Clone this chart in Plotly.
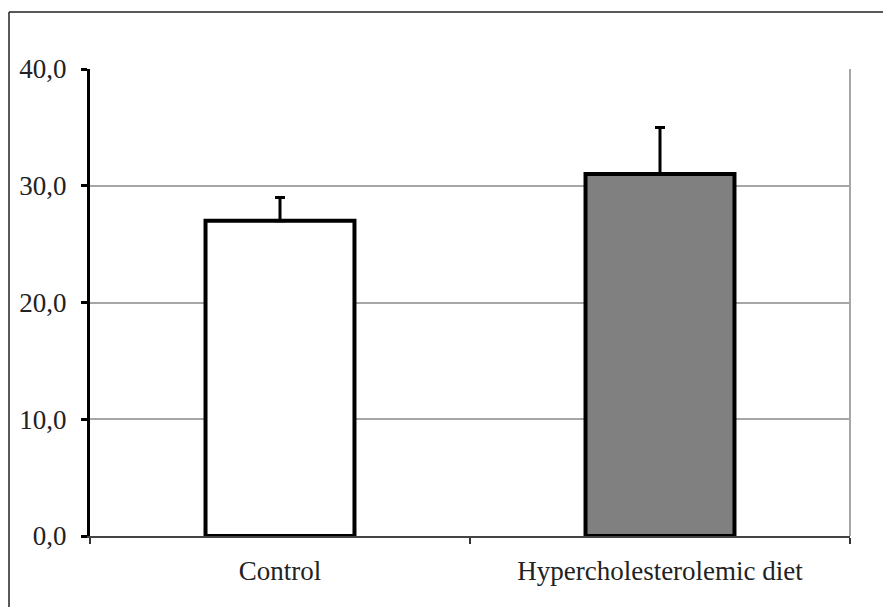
import plotly.graph_objects as go

categories = ["Control", "Hypercholesterolemic diet"]
values = [27.0, 31.0]
errors_up = [2.0, 4.0]
errors_down = [0.0, 0.0]
bar_colors = ["#ffffff", "#808080"]
y_tick_vals = [0, 10, 20, 30, 40]
y_tick_text = ["0,0", "10,0", "20,0", "30,0", "40,0"]

OFF = 8  # page body margin
W, H = 891 - OFF, 607 - OFF
L, R, T, B = 90, 850, 69, 536  # target pixel positions in the window

fig = go.Figure()
fig.add_trace(go.Bar(
    x=categories, y=values,
    width=0.392,
    marker=dict(color=bar_colors, line=dict(color="black", width=4)),
    error_y=dict(type="data", symmetric=False, array=errors_up, arrayminus=errors_down,
                 color="black", thickness=3, width=5),
))

font = dict(family="Liberation Serif, Times New Roman, serif", size=27, color="#222222")

fig.update_layout(
    width=W, height=H,
    margin=dict(l=L - OFF, r=891 - R, t=T - OFF, b=607 - B, pad=0),
    paper_bgcolor="white", plot_bgcolor="white",
    showlegend=False,
    font=font,
    xaxis=dict(
        type="category", tickson="boundaries", ticks="outside", ticklen=6, tickwidth=2,
        tickcolor="#333333", showline=True, linecolor="#444444", linewidth=2,
        showgrid=False, tickfont=font, ticklabelstandoff=10, zeroline=False,
    ),
    yaxis=dict(
        range=[0, 40], tickvals=y_tick_vals, ticktext=y_tick_text,
        ticks="outside", ticklen=6, tickwidth=3, tickcolor="black",
        showline=True, linecolor="black", linewidth=3,
        showgrid=True, gridcolor="#a6a6a6", gridwidth=1.5,
        zeroline=False, tickfont=font, ticklabelstandoff=9,
    ),
)

# gray right border of plot area
fig.add_shape(type="line", xref="paper", yref="paper", x0=1, x1=1, y0=0, y1=1,
              line=dict(color="#a6a6a6", width=2))
# outer frame (left and top edges visible)
x_frame = (9 - L) / (R - L)
y_frame = (B - 12) / (B - T)
fig.add_shape(type="line", xref="paper", yref="paper", x0=x_frame, x1=x_frame,
              y0=-0.3, y1=y_frame, line=dict(color="#222222", width=1.5))
fig.add_shape(type="line", xref="paper", yref="paper", x0=x_frame, x1=1.2,
              y0=y_frame, y1=y_frame, line=dict(color="#222222", width=1.5))

fig.write_html("out.html")
